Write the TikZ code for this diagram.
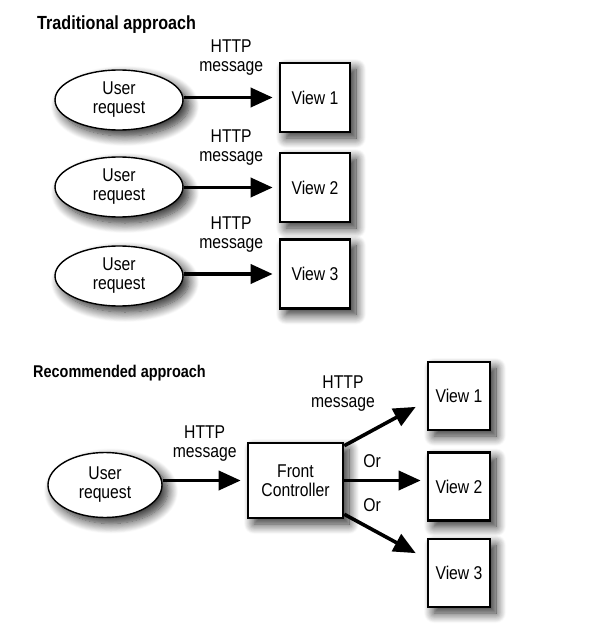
\documentclass[tikz,border=0pt]{standalone}
\usepackage{fontspec}
\setmainfont{Liberation Sans}[FakeStretch=0.85]
\usetikzlibrary{shapes.geometric,arrows.meta,shadows.blur}
\begin{document}
\begin{tikzpicture}[x=1pt,y=-1pt,
  lbl/.style={font=\fontsize{18.5}{19}\selectfont, align=center, inner sep=0pt},
  ttl/.style={font=\fontsize{19}{19}\selectfont\bfseries, inner sep=0pt, anchor=base west},
  shad/.style={blur shadow={shadow xshift=6pt, shadow yshift=-6pt, shadow blur radius=10pt, shadow blur steps=12, shadow opacity=85}},
  req/.style={ellipse, draw, line width=1.4pt, fill=white, shad, lbl, minimum width=128pt, minimum height=60pt},
  viewbox/.style={rectangle, draw, line width=2.6pt, fill=white, shad, lbl, minimum width=70pt, minimum height=69pt},
  arr/.style={line width=3.6pt, -{Triangle[length=22pt,width=19pt]}, shorten >=6pt},
  arrlbl/.style={lbl, midway, above=20pt}
]
\useasboundingbox (0,0) rectangle (590,642);

\node[ttl] (t1) at (37,30) {Traditional approach};

\node[req] (e1) at (119,100) {User\\request};
\node[req] (e2) at (119,187) {User\\request};
\node[req] (e3) at (119,276) {User\\request};

\node[viewbox] (v1) at (315,97.5) {View 1};
\node[viewbox] (v2) at (315,187.5) {View 2};
\node[viewbox] (v3) at (315,274) {View 3};

\draw[arr] (e1.east |- v1.west) -- (v1.west) node[arrlbl] {HTTP\\message};
\draw[arr] (e2.east |- v2.west) -- (v2.west) node[arrlbl] {HTTP\\message};
\draw[arr] (e3.east |- v3.west) -- (v3.west) node[arrlbl] {HTTP\\message};

\node[ttl, font=\fontsize{17}{17}\selectfont\bfseries] (t2) at (33,377) {Recommended approach};

\node[req, minimum width=114pt, minimum height=65pt] (er) at (105,485) {User\\request};
\node[viewbox, minimum width=95pt, minimum height=75pt] (fc) at (295.5,480.5) {Front\\Controller};

\node[viewbox, minimum width=62pt, minimum height=68pt] (r1) at (459,396) {View 1};
\node[viewbox, minimum width=62pt, minimum height=68pt] (r2) at (459,486.5) {View 2};
\node[viewbox, minimum width=62pt, minimum height=68pt] (r3) at (459,573) {View 3};

\draw[arr] (er.east |- fc.west) -- (fc.west) node[lbl, midway, above=17pt] {HTTP\\message};

\coordinate (a1) at (421,404);
\coordinate (a3) at (421,556);
\draw[arr] ([yshift=-4pt]fc.north east) -- (a1);
\draw[arr] (fc.east) -- (r2.west |- fc.east);
\draw[arr] ([yshift=5pt]fc.south east) -- (a3);

\node[lbl] (h2) at (343,394) {HTTP\\message};
\node[lbl] (or1) at (372,461) {Or};
\node[lbl] (or2) at (372,505) {Or};
\end{tikzpicture}
\end{document}
